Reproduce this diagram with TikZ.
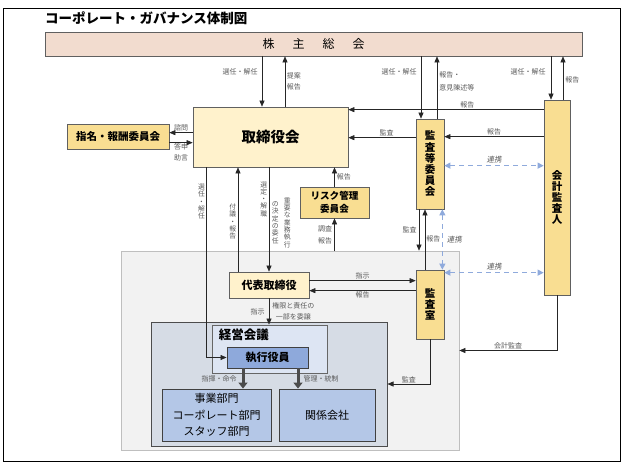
\documentclass[tikz,border=0pt]{standalone}
\usepackage{fontspec}
\setmainfont{Noto Sans CJK JP}
\newfontfamily\slantjp{Noto Sans CJK JP}[FakeSlant=0.2]
\usepackage{tikz}
\usetikzlibrary{arrows.meta,calc}
\definecolor{sharefill}{HTML}{F2DCCF}
\definecolor{boardfill}{HTML}{FFF2CC}
\definecolor{goldfill}{HTML}{F9DE92}
\definecolor{execfill}{HTML}{F2F2F2}
\definecolor{execline}{HTML}{BFBFBF}
\definecolor{mgmtfill}{HTML}{D6DCE5}
\definecolor{meetfill}{HTML}{DDE5F3}
\definecolor{officerblue}{HTML}{8EA9DB}
\definecolor{unitblue}{HTML}{B4C7E7}
\definecolor{linkblue}{HTML}{8FAADC}
\definecolor{labelgray}{HTML}{595959}

\begin{document}
\begin{tikzpicture}[x=1pt,y=-1pt,
  box/.style={draw=gray!75!black, line width=0.7pt, inner sep=0pt, align=center},
  goldbox/.style={box, fill=goldfill, font=\fontsize{10.5}{11.2}\selectfont\bfseries},
  bluebox/.style={box, draw=black!75, line width=0.9pt},
  arr/.style={draw=black!85, line width=0.6pt, -{Triangle[length=6pt,width=5pt]}},
  fatarr/.style={draw=black!70, line width=3pt, -{Triangle[length=6pt,width=9pt]}},
  link/.style={draw=linkblue, line width=1.1pt, dash pattern=on 5pt off 4pt,
    {Triangle[length=6pt,width=6pt]}-{Triangle[length=6pt,width=6pt]}},
  lbl/.style={font=\fontsize{7}{10.5}\selectfont, text=labelgray, inner sep=1pt, align=center},
  vlbl/.style={lbl, font=\fontsize{6.8}{7.3}\selectfont},
  linklbl/.style={font=\fontsize{7.5}{9}\selectfont\slantjp, text=labelgray, inner sep=1pt}]
  \useasboundingbox (0,0) rectangle (624,464);
  \draw[line width=1pt] (3,8) rectangle (620,461);
  \node[anchor=west, inner sep=0pt, font=\fontsize{13.5}{15}\selectfont\bfseries] (title) at (45,18)
    {コーポレート・ガバナンス体制図};

  % execution side
  \node[draw=execline, fill=execfill, line width=0.7pt, minimum width=338pt, minimum height=199pt] (exec) at (290,350.5) {};
  \node[draw=black!70, fill=mgmtfill, line width=1pt, minimum width=236pt, minimum height=124pt] (mgmt) at (269,384) {};
  \node[draw=gray!80!black, fill=meetfill, line width=0.9pt, minimum width=115pt, minimum height=48pt] (keiei) at (269.5,349) {};
  \node[anchor=west, inner sep=0pt, font=\fontsize{12.5}{14}\selectfont\bfseries] (keieilbl)
    at ($(keiei.north west)+(7,10)$) {経営会議};
  \node[bluebox, fill=officerblue, minimum width=81pt, minimum height=21pt,
    font=\fontsize{11}{12}\selectfont\bfseries] (shikkou) at (267.5,357.5) {執行役員};
  \node[bluebox, fill=unitblue, minimum width=109pt, minimum height=52pt,
    font=\fontsize{11}{16.5}\selectfont] (jigyo) at (216.5,415) {事業部門\\コーポレート部門\\スタッフ部門};
  \node[bluebox, fill=unitblue, minimum width=96pt, minimum height=52pt,
    font=\fontsize{11}{12}\selectfont] (kankei) at (327,415) {関係会社};

  % boards and committees
  \node[box, fill=sharefill, minimum width=537pt, minimum height=24pt, font=\fontsize{12}{14}\selectfont] (kabu)
    at (313.5,44) {株\hspace{18pt}主\hspace{18pt}総\hspace{18pt}会};
  \node[box, fill=boardfill, minimum width=155pt, minimum height=60pt, font=\fontsize{14.5}{16}\selectfont\bfseries] (tori)
    at (270.5,137) {取締役会};
  \node[goldbox, minimum width=102pt, minimum height=25pt] (shimei) at (118,136.5) {指名・報酬委員会};
  \node[goldbox, minimum width=28pt, minimum height=90pt] (kansatou) at (430,164) {監\\査\\等\\委\\員\\会};
  \node[goldbox, minimum width=26pt, minimum height=195pt] (kaikei) at (557,197.5) {会\\計\\監\\査\\人};
  \node[goldbox, minimum width=28pt, minimum height=69pt] (kansashitsu) at (430,304.5) {監\\査\\室};
  \node[goldbox, minimum width=69pt, minimum height=31pt, font=\fontsize{9.6}{13}\selectfont\bfseries] (risk)
    at (334.5,202.5) {リスク管理\\委員会};
  \node[box, fill=boardfill, minimum width=80pt, minimum height=26pt, font=\fontsize{11}{12}\selectfont\bfseries] (daihyo)
    at (269,285) {代表取締役};

  % shareholders
  \draw[arr] ($(kabu.south -| tori.north)+(-8.5,0)$) -- ($(tori.north)+(-8.5,0)$)
    node[lbl, pos=0.3, left=3pt] {選任・解任};
  \draw[arr] ($(tori.north)+(14.5,0)$) -- ($(kabu.south -| tori.north)+(14.5,0)$)
    node[lbl, midway, right=0.5pt] {提案\\報告};
  \draw[arr] ($(kabu.south -| kansatou.north)+(-9,0)$) -- ($(kansatou.north)+(-9,0)$)
    node[lbl, pos=0.25, left=3pt] {選任・解任};
  \draw[arr] ($(kansatou.north)+(7,0)$) -- ($(kabu.south -| kansatou.north)+(7,0)$)
    node[lbl, pos=0.6, right=1pt, align=left, font=\fontsize{7}{12.5}\selectfont] {報告・\\意見陳述等};
  \draw[arr] ($(kabu.south -| kaikei.north)+(-6,0)$) -- ($(kaikei.north)+(-6,0)$)
    node[lbl, pos=0.36, left=4pt] {選任・解任};
  \draw[arr] ($(kaikei.north)+(6,0)$) -- ($(kabu.south -| kaikei.north)+(6,0)$)
    node[lbl, pos=0.45, right=1pt] {報告};

  % reports and audit to the board
  \draw[arr] ($(kaikei.north west)+(0,10)$) -- ($(tori.north east)+(0,3)$)
    node[lbl, pos=0.39, above] {報告};
  \draw[arr] ($(kaikei.north west)+(0,37)$) -- ($(kansatou.north east)+(0,18)$)
    node[lbl, midway, above] {報告};
  \draw[arr] ($(kansatou.north west)+(0,19)$) -- ($(tori.north east)+(0,31)$)
    node[lbl, pos=0.43, above] {監査};
  \draw[arr] ($(tori.north west)+(0,26)$) -- ($(shimei.north east)+(0,9)$)
    node[lbl, midway, above] {諮問};
  \draw[arr] ($(shimei.north east)+(0,19)$) -- ($(tori.north west)+(0,36)$)
    node[lbl, midway, below] {答申\\助言};

  % board and representative director
  \draw[arr] ($(tori.south west)+(14,0)$) |- (shikkou.west)
    node[vlbl, pos=0.09, left=0.5pt] {選\\任\\・\\解\\任};
  \draw[arr] ($(daihyo.north)+(-31,0)$) -- ($(tori.south -| daihyo.north)+(-31,0)$)
    node[vlbl, pos=0.48, left=0.5pt] {付\\議\\・\\報\\告};
  \draw[arr] (tori.south -| daihyo.north) -- (daihyo.north)
    node[vlbl, pos=0.305, left=0.5pt] {選\\定\\・\\解\\職}
    node[vlbl, pos=0.53, right=1.5pt] {の\\決\\定\\の\\委\\任}
    node[vlbl, pos=0.53, right=13.5pt] {重\\要\\な\\業\\務\\執\\行};
  \draw[arr] (risk.north) -- (tori.south -| risk.north)
    node[lbl, midway, right=1pt] {報告};
  \draw[arr] (exec.north -| risk.south) -- (risk.south)
    node[lbl, midway, left=1pt, font=\fontsize{7}{12}\selectfont] {調査\\報告};

  % representative director and audit office
  \draw[arr] ($(daihyo.north east)+(0,9)$) -- ($(kansashitsu.north west)+(0,11)$)
    node[lbl, midway, above] {指示};
  \draw[arr] ($(kansashitsu.north west)+(0,21)$) -- ($(daihyo.north east)+(0,19)$)
    node[lbl, midway, below] {報告};
  \draw[arr] (daihyo.south) -- (keiei.north -| daihyo.south)
    node[lbl, midway, left=3pt] {指示}
    node[lbl, midway, right=2pt] {権限と責任の\\一部を委譲};

  % executive officers
  \draw[fatarr] ($(shikkou.south)+(-24.5,0)$) -- ($(jigyo.north -| shikkou.south)+(-24.5,0)$)
    node[lbl, midway, left=4pt] {指揮・命令};
  \draw[fatarr] ($(shikkou.south)+(30.5,0)$) -- ($(kankei.north -| shikkou.south)+(30.5,0)$)
    node[lbl, midway, right=3pt] {管理・統制};

  % audit lines
  \draw[arr] (kansashitsu.south) |- (mgmt.east) node[lbl, pos=0.75, above] {監査};
  \draw[arr] (kaikei.south) |- (exec.east) node[lbl, pos=0.75, above] {会計監査};
  \draw[arr] ($(kansatou.south)+(-11,0)$) -- ($(exec.north -| kansatou.south)+(-11,0)$)
    node[lbl, midway, left=1pt] {監査};
  \draw[arr] ($(kansashitsu.north)+(-5,0)$) -- ($(kansatou.south)+(-5,0)$)
    node[lbl, pos=0.51, right=0pt] {報告};

  % cooperation
  \draw[link] ($(kansatou.north east)+(0,47)$) -- ($(kaikei.north west)+(0,66)$)
    node[linklbl, midway, above=1pt] {連携};
  \draw[link] ($(kansatou.south east)+(-2,0)$) -- ($(kansashitsu.north east)+(-2,0)$)
    node[linklbl, midway, right=3pt] {連携};
  \draw[link] ($(kansashitsu.north east)+(0,3)$) -- ($(kaikei.north west)+(0,173)$)
    node[linklbl, midway, above=1pt] {連携};
\end{tikzpicture}
\end{document}
